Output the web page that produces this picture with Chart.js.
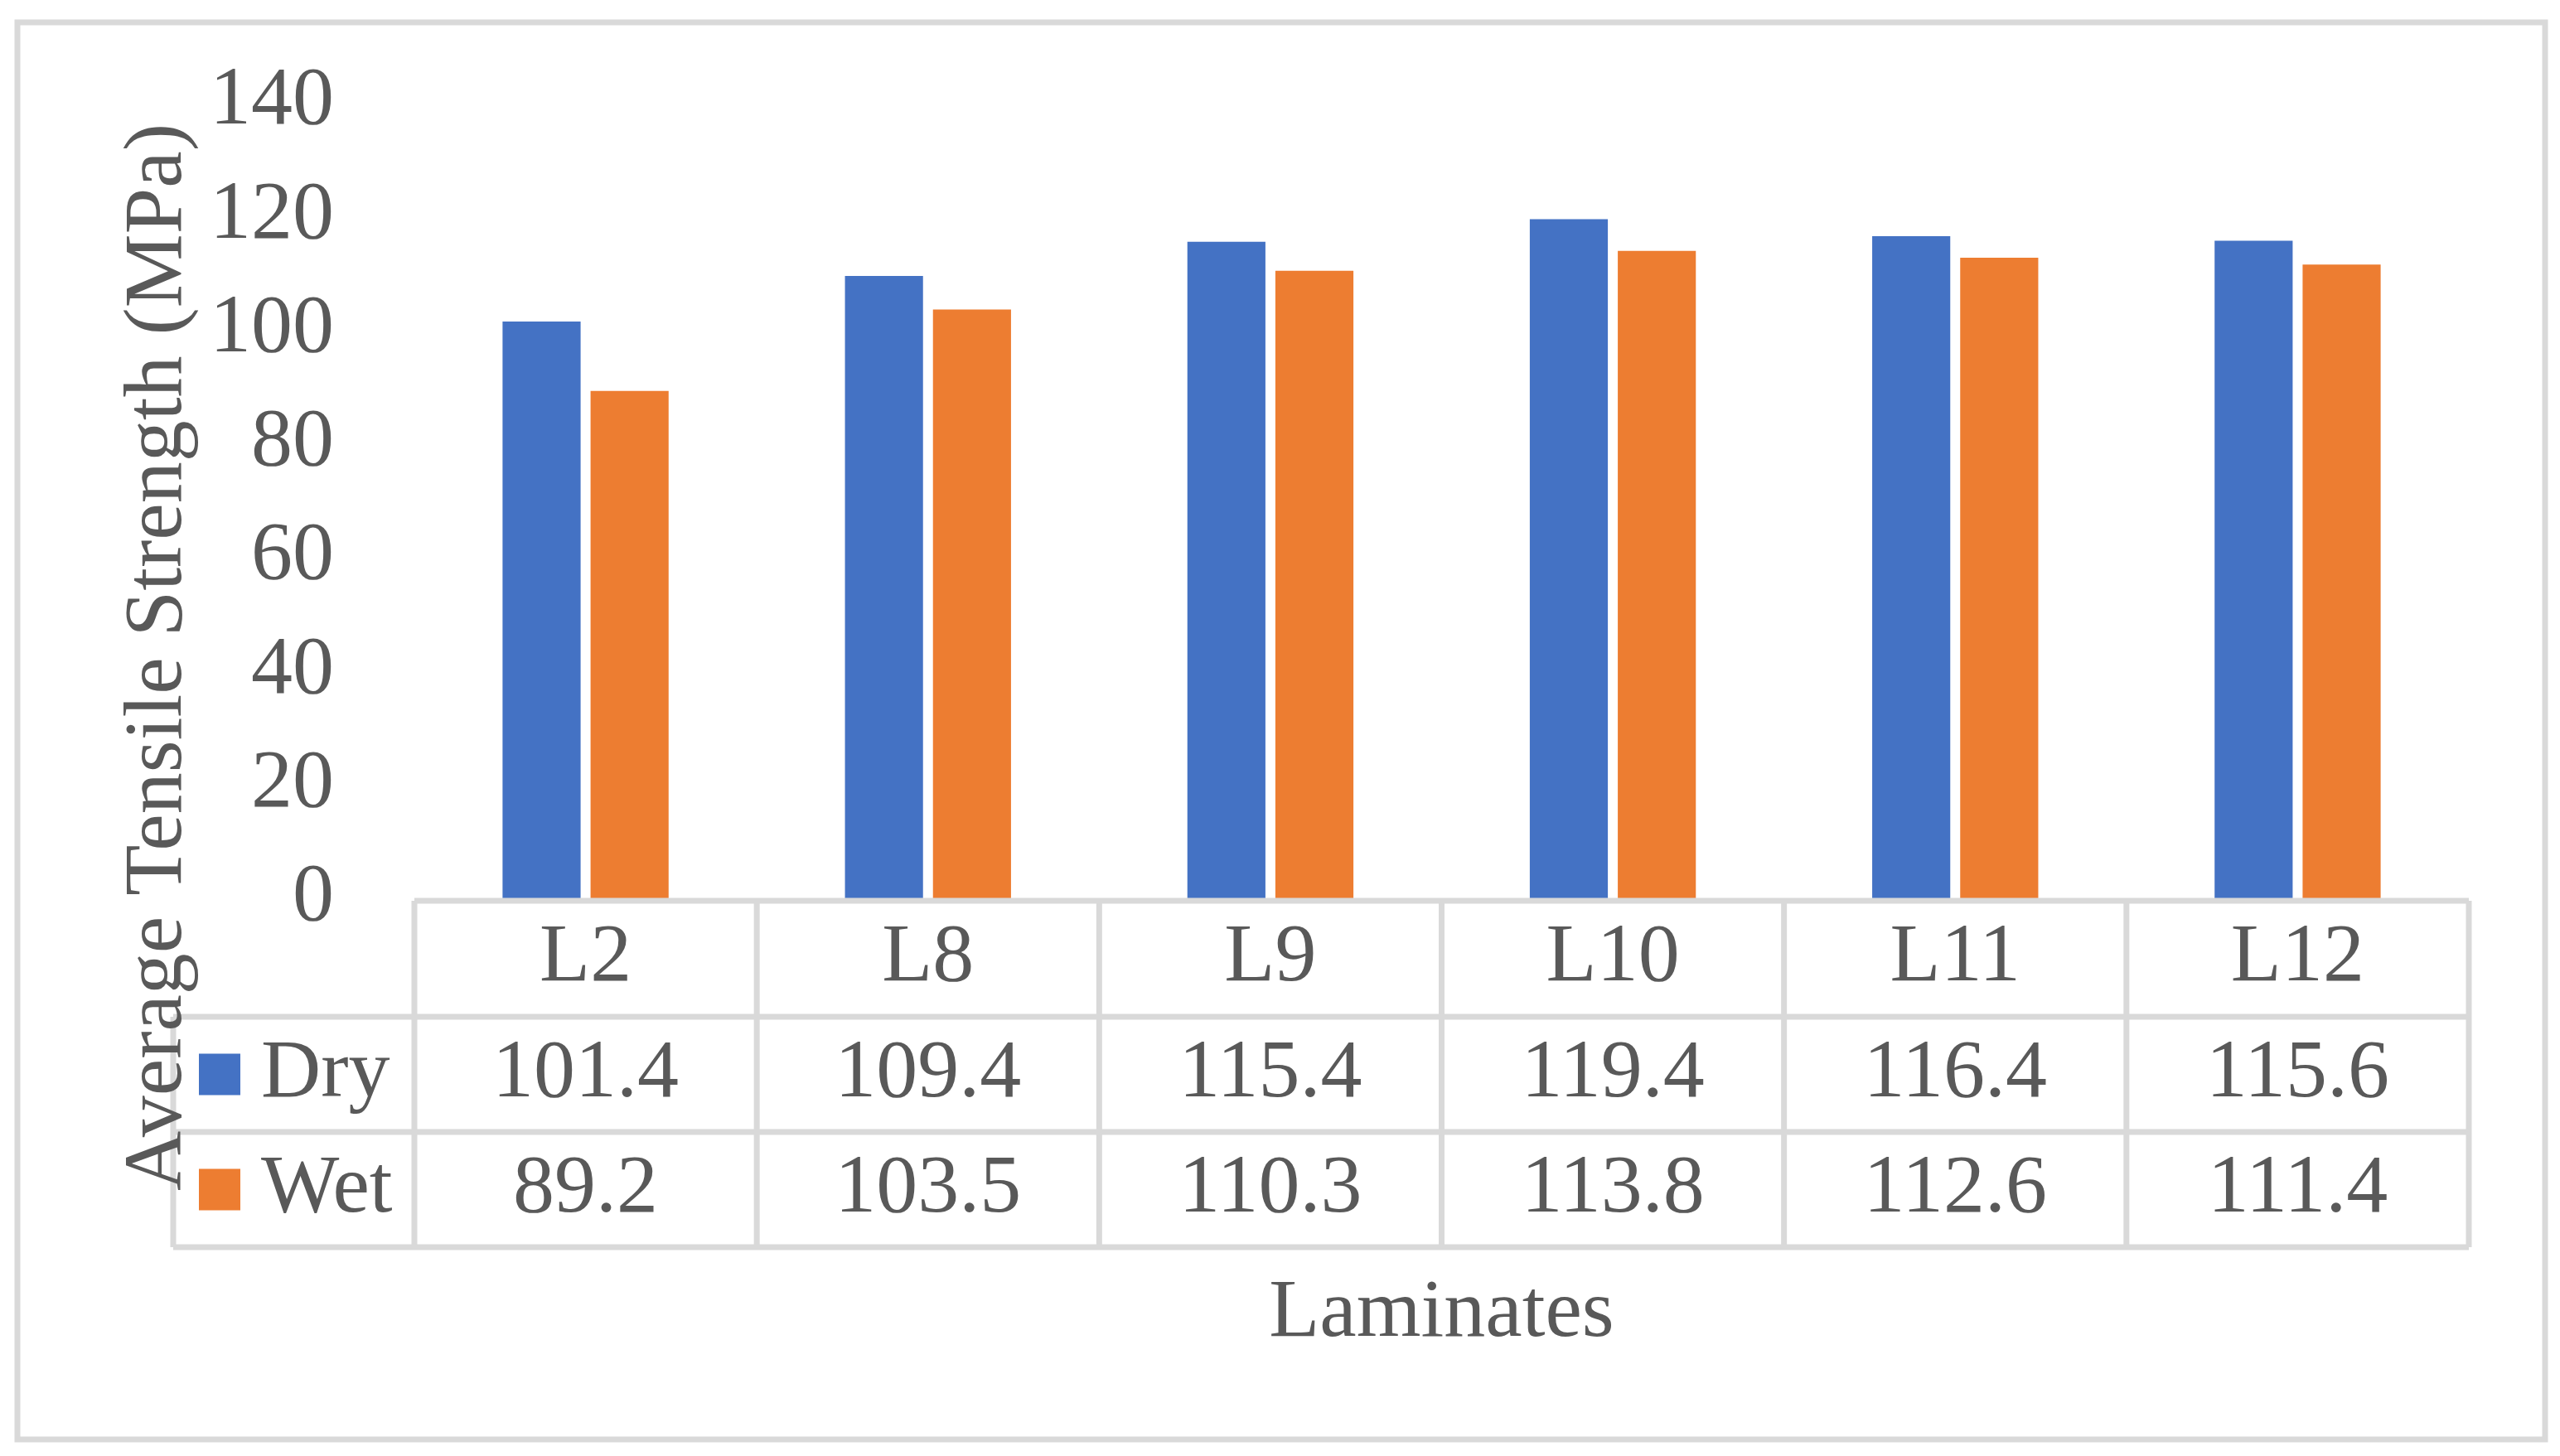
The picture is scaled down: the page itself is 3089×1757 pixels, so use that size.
<!DOCTYPE html>
<html>
<head>
  <title>Average Tensile Strength</title>
  <script src="https://cdn.jsdelivr.net/npm/chart.js"></script>
  <style>
    html, body { margin: 0; padding: 0; background: #fff; }
    canvas { display: block; }
  </style>
</head>
<body>
  <canvas id="myChart" width="3089" height="1757"></canvas>

  <script>
    // data
    const laminates = ['L2', 'L8', 'L9', 'L10', 'L11', 'L12'];
    const dryValues = [101.4, 109.4, 115.4, 119.4, 116.4, 115.6];
    const wetValues = [89.2, 103.5, 110.3, 113.8, 112.6, 111.4];
    const seriesNames = ['Dry', 'Wet'];
    const seriesColors = ['#4472C4', '#ED7D31'];
    const yTicks = [0, 20, 40, 60, 80, 100, 120, 140];

    const FONT = "'Liberation Serif', 'Times New Roman', serif";
    const TEXT = '#595959';
    const LINE = '#d9d9d9';

    // frame, data table under the plot, and axis titles
    const tablePlugin = {
      id: 'dataTable',
      afterDraw(chart) {
        const ctx = chart.ctx;
        const area = chart.chartArea;
        const x = chart.scales.x;
        const n = laminates.length;
        const colW = (area.right - area.left) / n;
        const rows = [1087, 1227, 1366, 1505];
        const legendLeft = 209;

        ctx.save();
        ctx.strokeStyle = LINE;
        ctx.lineWidth = 7;

        // outer frame
        ctx.strokeRect(21, 27, 3071 - 21, 1737 - 27);

        // horizontal lines
        ctx.beginPath();
        ctx.moveTo(area.left, rows[0]);
        ctx.lineTo(area.right, rows[0]);
        for (let r = 1; r < rows.length; r++) {
          ctx.moveTo(legendLeft, rows[r]);
          ctx.lineTo(area.right, rows[r]);
        }
        // vertical lines
        ctx.moveTo(legendLeft, rows[1]);
        ctx.lineTo(legendLeft, rows[3]);
        for (let i = 0; i <= n; i++) {
          const px = area.left + i * colW;
          ctx.moveTo(px, rows[0]);
          ctx.lineTo(px, rows[3]);
        }
        ctx.stroke();

        // cell text
        ctx.fillStyle = TEXT;
        ctx.font = '100px ' + FONT;
        ctx.textAlign = 'center';
        ctx.textBaseline = 'middle';
        const series = [dryValues, wetValues];
        laminates.forEach((lab, i) => {
          const cx = x.getPixelForValue(i);
          ctx.fillText(lab, cx, (rows[0] + rows[1]) / 2);
          series.forEach((vals, s) => {
            ctx.fillText(vals[i].toFixed(1), cx, (rows[s + 1] + rows[s + 2]) / 2);
          });
        });

        // legend keys in the first column
        ctx.textAlign = 'left';
        seriesNames.forEach((name, s) => {
          const cy = (rows[s + 1] + rows[s + 2]) / 2;
          ctx.fillStyle = seriesColors[s];
          ctx.fillRect(240, cy - 25, 50, 50);
          ctx.fillStyle = TEXT;
          ctx.fillText(name, 315, cy);
        });

        // x axis title
        ctx.textAlign = 'center';
        ctx.textBaseline = 'alphabetic';
        ctx.fillText('Laminates', (area.left + area.right) / 2, 1612);

        // y axis title
        ctx.translate(218, 793);
        ctx.rotate(-Math.PI / 2);
        ctx.fillText('Average Tensile Strength (MPa)', 0, 0);
        ctx.restore();
      }
    };

    const ctx = document.getElementById('myChart').getContext('2d');
    new Chart(ctx, {
      type: 'bar',
      data: {
        labels: laminates,
        datasets: [
          { label: seriesNames[0], data: dryValues, backgroundColor: seriesColors[0] },
          { label: seriesNames[1], data: wetValues, backgroundColor: seriesColors[1] }
        ]
      },
      options: {
        responsive: false,
        animation: false,
        devicePixelRatio: 1,
        layout: { padding: { left: 0, top: 123, right: 110, bottom: 673 } },
        datasets: { bar: { categoryPercentage: 0.514, barPercentage: 0.887 } },
        plugins: { legend: { display: false }, tooltip: { enabled: false } },
        scales: {
          x: { display: false },
          y: {
            min: 0,
            max: 140,
            afterFit: s => {
              s.width = 500;
              // tick padding is horizontal here, don't let it eat vertical space
              s.paddingTop = 0;
              s.paddingBottom = 0;
            },
            afterBuildTicks: s => { s.ticks = yTicks.map(v => ({ value: v })); },
            grid: { display: false },
            border: { display: false },
            ticks: { padding: 89, color: TEXT, font: { family: FONT, size: 100 } }
          }
        }
      },
      plugins: [tablePlugin]
    });
  </script>
</body>
</html>
